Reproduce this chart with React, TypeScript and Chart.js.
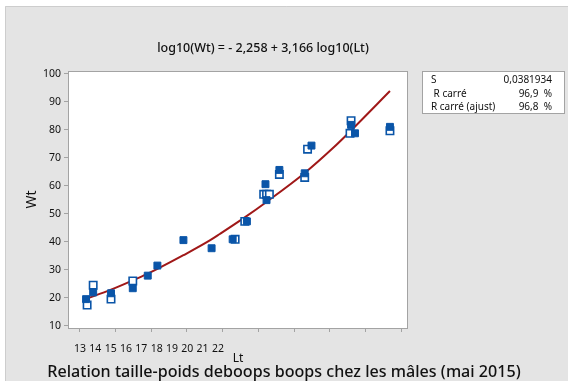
import React, { useEffect, useRef } from "react";
import { Chart, registerables } from "chart.js";

Chart.register(...registerables);

// ---- Data ----
const filledLt = [13.17, 13.37, 13.87, 14.48, 14.9, 15.17, 15.9, 16.69, 17.28, 17.68, 18.2, 18.23, 18.59, 19.3, 19.49, 20.6, 20.71, 21.69];
const filledWt = [19.5, 21.9, 21.6, 23.4, 27.9, 31.5, 40.6, 37.7, 40.9, 47.3, 60.6, 54.9, 65.7, 64.5, 74.4, 81.8, 78.8, 81.1];

const openLt = [13.2, 13.37, 13.87, 14.48, 17.35, 17.62, 18.15, 18.23, 18.31, 18.59, 19.3, 19.38, 20.6, 20.57, 21.69];
const openWt = [17.4, 24.5, 19.5, 26.0, 40.9, 47.3, 57.0, 57.0, 57.0, 64.1, 63.0, 73.1, 83.3, 78.8, 79.7];

const fitLt = [13.17, 13.87, 14.48, 14.9, 15.17, 15.9, 16.64, 16.92, 17.65, 18.18, 19.3, 20.1, 20.6, 21.69];
const fitWt = [19.6, 22.9, 26.2, 28.6, 30.3, 35.2, 40.5, 42.8, 49.0, 53.8, 64.6, 73.6, 79.8, 93.9];

const ltTicks = [13, 14, 15, 16, 17, 18, 19, 20, 21, 22];
const wtTicks = [10, 20, 30, 40, 50, 60, 70, 80, 90, 100];

const equationText = "log10(Wt) = - 2,258 + 3,166 log10(Lt)";
const captionText = "Relation taille-poids deboops boops chez les mâles (mai 2015)";
const xTitle = "Lt";
const yTitle = "Wt";
const statsLabels = ["S", " R carré", "R carré (ajust)"];
const statsValues = ["0,0381934", "96,9  %", "96,8  %"];

// ---- Styles ----
const FONT = "'Noto Sans', 'Open Sans', sans-serif";
const BLUE = "#0a55a8";
const RED = "#a01818";
const PANEL = "#e4e4e4";
const FRAME = "#a3a3a3";
const TEXT = "#111111";

const toPoints = (xs: number[], ys: number[]) => xs.map((x, i) => ({ x, y: ys[i] }));

const decorPlugin = {
  id: "decor",
  beforeDraw(chart: any) {
    const { ctx, width, height, chartArea } = chart;
    ctx.save();
    ctx.fillStyle = "#ffffff";
    ctx.fillRect(0, 0, width, height);
    ctx.fillStyle = PANEL;
    ctx.fillRect(5, 6, width - 5, height - 6);
    ctx.strokeStyle = "#cdcdcd";
    ctx.lineWidth = 1;
    ctx.beginPath();
    ctx.moveTo(5.5, height);
    ctx.lineTo(5.5, 6.5);
    ctx.lineTo(width, 6.5);
    ctx.stroke();
    ctx.fillStyle = "#ffffff";
    ctx.fillRect(chartArea.left, chartArea.top, chartArea.right - chartArea.left, chartArea.bottom - chartArea.top);
    ctx.restore();
  },
  afterDraw(chart: any) {
    const { ctx, chartArea } = chart;
    ctx.save();
    // plot frame
    ctx.strokeStyle = FRAME;
    ctx.lineWidth = 1;
    ctx.strokeRect(chartArea.left + 0.5, chartArea.top + 0.5, chartArea.right - chartArea.left - 1, chartArea.bottom - chartArea.top);

    // equation title
    ctx.fillStyle = TEXT;
    ctx.textAlign = "center";
    ctx.textBaseline = "middle";
    ctx.font = `500 12.5px ${FONT}`;
    ctx.fillText(equationText, 263, 48);

    // caption
    ctx.font = `500 16.1px ${FONT}`;
    ctx.fillText(captionText, 284, 372);

    // stats box
    ctx.fillStyle = "#ffffff";
    ctx.fillRect(422, 71, 143, 43);
    ctx.strokeStyle = FRAME;
    ctx.strokeRect(422.5, 71.5, 142, 42);
    ctx.fillStyle = TEXT;
    ctx.font = `10px ${FONT}`;
    const rowY = [80, 94, 107.5];
    statsLabels.forEach((lab, i) => {
      ctx.textAlign = "left";
      ctx.fillText(lab, 431, rowY[i]);
      ctx.textAlign = "right";
      ctx.fillText(statsValues[i], 552, rowY[i]);
    });
    ctx.restore();
  },
};

export default function App() {
  const ref = useRef<HTMLCanvasElement | null>(null);

  useEffect(() => {
    if (!ref.current) return;
    const chart = new Chart(ref.current, {
      type: "scatter",
      data: {
        datasets: [
          {
            label: "filled",
            data: toPoints(filledLt, filledWt),
            pointStyle: "rect",
            pointRadius: 4.9,
            pointBackgroundColor: BLUE,
            pointBorderColor: BLUE,
            pointBorderWidth: 1,
            order: 1,
          },
          {
            label: "open",
            data: toPoints(openLt, openWt),
            pointStyle: "rect",
            pointRadius: 5.2,
            pointBackgroundColor: "#ffffff",
            pointBorderColor: BLUE,
            pointBorderWidth: 1.6,
            order: 2,
          },
          {
            label: "fit",
            data: toPoints(fitLt, fitWt),
            showLine: true,
            borderColor: RED,
            borderWidth: 2,
            pointRadius: 0,
            cubicInterpolationMode: "monotone",
            order: 3,
          } as any,
        ],
      },
      options: {
        animation: false,
        responsive: false,
        devicePixelRatio: 1,
        layout: { padding: { top: 71, right: 160, bottom: 15, left: 0 } },
        plugins: { legend: { display: false }, tooltip: { enabled: false }, title: { display: false } },
        scales: {
          x: {
            type: "linear",
            position: "bottom",
            weight: 0,
            min: 12.664,
            max: 22.196,
            afterBuildTicks: (s: any) => { s.ticks = ltTicks.map((v) => ({ value: v })); },
            afterFit: (s: any) => { s.height = 4; },
            ticks: { display: false },
            grid: { drawOnChartArea: false, drawTicks: true, tickLength: 4, color: FRAME },
            border: { display: false },
          },
          xl: {
            type: "linear",
            position: "bottom",
            weight: 1,
            min: 12.217,
            max: 34.4,
            afterBuildTicks: (s: any) => { s.ticks = ltTicks.map((v) => ({ value: v })); },
            afterFit: (s: any) => { s.height = 34; },
            ticks: { font: { family: FONT, size: 10.5 }, color: TEXT, padding: 3, maxRotation: 0, autoSkip: false },
            grid: { display: false },
            border: { display: false },
            title: { display: true, text: xTitle, font: { family: FONT, size: 12 }, color: TEXT, padding: { top: 0, bottom: 0 } },
          },
          y: {
            type: "linear",
            position: "left",
            min: 9.18,
            max: 101.07,
            afterBuildTicks: (s: any) => { s.ticks = wtTicks.map((v) => ({ value: v })); },
            afterFit: (s: any) => { s.width = 68; },
            ticks: { font: { family: FONT, size: 10.5 }, color: TEXT, padding: 3 },
            grid: { drawOnChartArea: false, drawTicks: true, tickLength: 4, color: FRAME },
            border: { display: false },
            title: { display: true, text: yTitle, font: { family: FONT, size: 14 }, color: TEXT, padding: { top: 23.6, bottom: 0 } },
          },
        },
      } as any,
      plugins: [decorPlugin],
    });
    return () => chart.destroy();
  }, []);

  return (
    <canvas
      ref={ref}
      width={568}
      height={381}
      style={{ position: "fixed", left: 0, top: 0, width: 568, height: 381, display: "block" }}
    />
  );
}
